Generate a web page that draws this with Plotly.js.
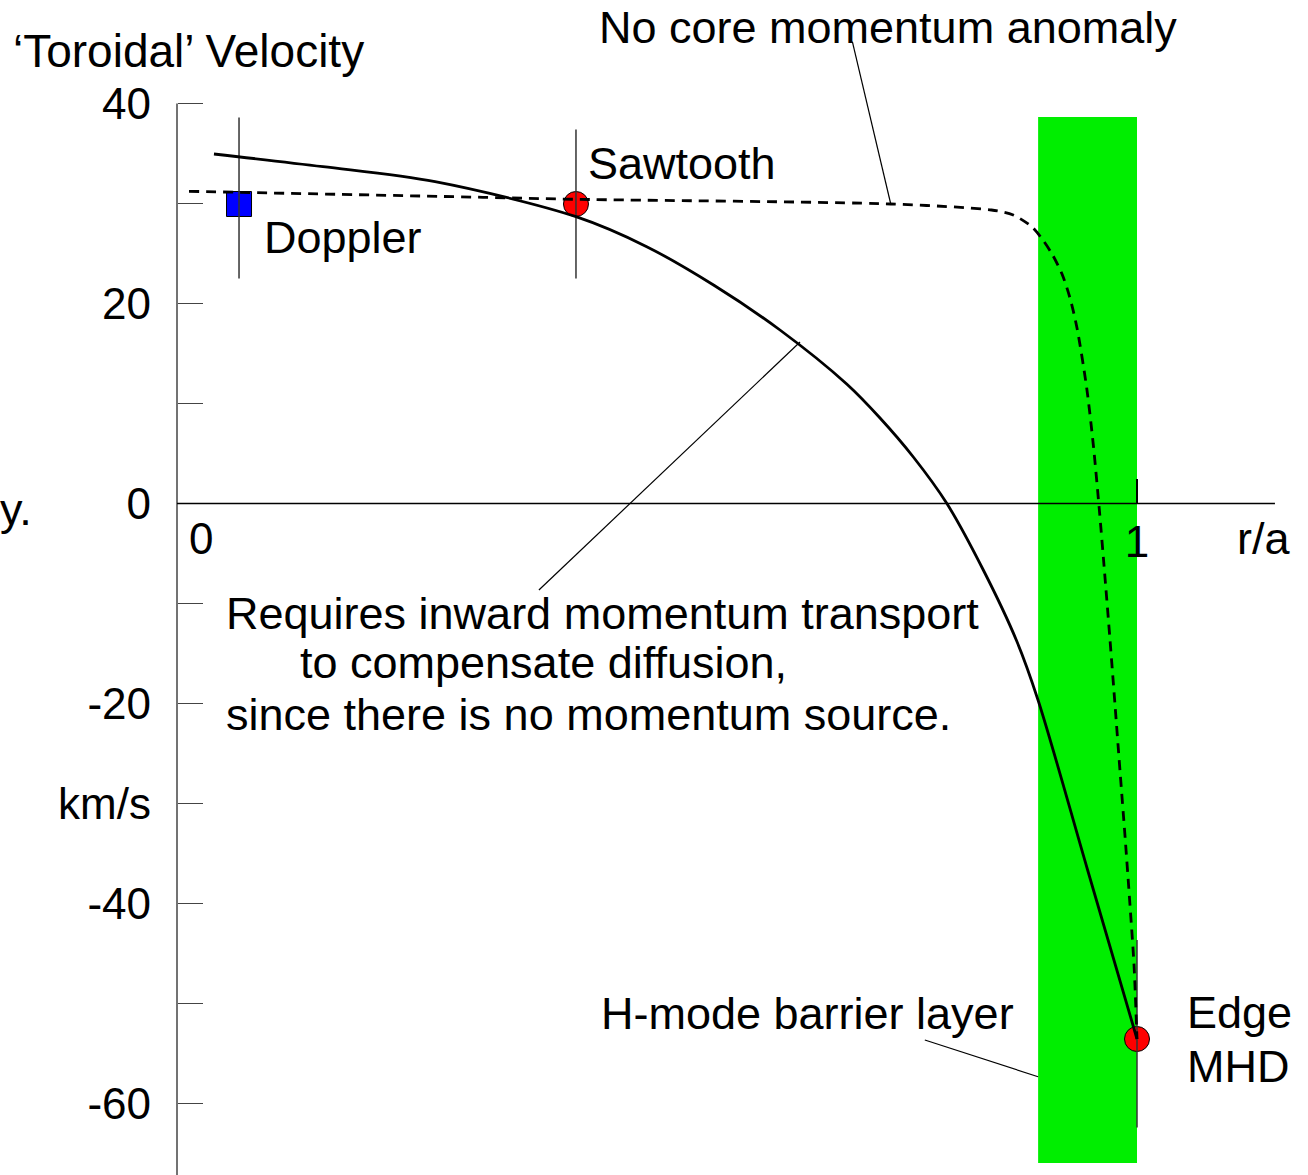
<!DOCTYPE html>
<html>
<head>
<meta charset="utf-8">
<script src="https://cdn.plot.ly/plotly-3.0.1.min.js"></script>
<style>html,body{margin:0;padding:0;background:#fff;}#chart{width:1308px;height:1175px;}</style>
</head>
<body>
<div id="chart"></div>
<script>
// ---- data ----
const solidR = [0.0385, 0.1521, 0.2688, 0.4156, 0.4893, 0.5597, 0.6281, 0.6976, 0.7323, 0.7670, 0.8018, 0.8399, 0.8747, 0.8969, 0.9484, 1.0];
const solidV = [34.95, 33.68, 32.18, 28.68, 25.68, 21.8, 17.35, 11.95, 8.55, 4.65, 0.02, -6.65, -13.75, -19.65, -36.6, -53.55];

const dashR = [0.0125, 0.3188, 0.4156, 0.7435, 0.8483, 0.8711, 0.8903, 0.9007, 0.9115, 0.9219, 0.9302, 0.9375, 0.9476, 0.9545, 0.9607, 0.9656, 0.9719, 0.9771, 0.9823, 0.9875, 0.9927, 0.9969, 1.0];
const dashV = [31.22, 30.62, 30.42, 29.95, 29.35, 28.85, 27.68, 26.52, 24.95, 22.95, 20.55, 17.55, 11.55, 5.85, -0.55, -6.15, -13.65, -20.15, -26.75, -33.25, -40.15, -46.15, -53.55];

const pointNames = ['Doppler', 'Sawtooth', 'Edge MHD'];
const pointR  = [0.0646, 0.4156, 1.0];
const pointV  = [29.95, 29.95, -53.55];
const pointHi = [38.6, 37.4, -43.65];
const pointLo = [22.5, 22.5, -62.4];

const barrierR = [0.897, 1.0];
const barrierV = [-65.95, 38.65];

const yTickVals = [40, 30, 20, 10, 0, -10, -20, -30, -40, -50, -60];
const yTickText = ['40', '', '20', '', '0', '', '-20', 'km/s', '-40', '', '-60'];
const xTickVals = [1];
const xTickText = ['1'];
const xAxisEnd = 1.1437;
const yAxisTop = 40;

// leader lines [r0, v0, r1, v1]
const leaderNoCore = [0.7035, 46.18, 0.7435, 29.95];
const leaderInward = [0.377, -8.65, 0.649, 16.15];
const leaderHmode  = [0.779, -53.65, 0.897, -57.32];

// ---- layout helpers (pixel -> paper) ----
const W = 1308, H = 1175;
const PX = x => x / W;
const PY = y => 1 - y / H;
const FONT = 'Liberation Sans, Arial, sans-serif';

const traces = [];
// markers
traces.push({
  x: [pointR[0]], y: [pointV[0]], mode: 'markers', type: 'scatter', name: pointNames[0],
  marker: {symbol: 'square', size: 25, color: '#0000ff', line: {color: '#000', width: 1}},
  hoverinfo: 'skip'
});
traces.push({
  x: pointR.slice(1), y: pointV.slice(1), mode: 'markers', type: 'scatter', name: 'MHD',
  marker: {symbol: 'circle', size: 25, color: '#ff0000', line: {color: '#000', width: 1}},
  hoverinfo: 'skip'
});
// error bars drawn as lines over the markers
const ebX = [], ebY = [];
for (let i = 0; i < pointR.length; i++) {
  ebX.push(pointR[i], pointR[i], null);
  ebY.push(pointLo[i], pointHi[i], null);
}
traces.push({x: ebX, y: ebY, mode: 'lines', type: 'scatter', line: {color: '#333', width: 1.5}, hoverinfo: 'skip'});
// curves
traces.push({x: dashR, y: dashV, mode: 'lines', type: 'scatter',
  line: {color: '#000', width: 2.8, dash: '10px,7px', shape: 'spline', smoothing: 0.8}, hoverinfo: 'skip'});
traces.push({x: solidR, y: solidV, mode: 'lines', type: 'scatter',
  line: {color: '#000', width: 2.8, shape: 'spline', smoothing: 0.9}, hoverinfo: 'skip'});
// leaders
[leaderNoCore, leaderInward, leaderHmode].forEach(l => {
  traces.push({x: [l[0], l[2]], y: [l[1], l[3]], mode: 'lines', type: 'scatter',
    line: {color: '#000', width: 1.2}, hoverinfo: 'skip'});
});

const shapes = [
  {type: 'rect', xref: 'x', yref: 'y', x0: barrierR[0], x1: barrierR[1], y0: barrierV[0], y1: barrierV[1],
   fillcolor: '#00ee00', line: {width: 0}, layer: 'below'},
  {type: 'line', xref: 'x', yref: 'y', x0: 0, x1: 0, y0: yAxisTop, y1: -80, line: {color: '#444', width: 1.5}},
  {type: 'line', xref: 'x', yref: 'y', x0: 0, x1: xAxisEnd, y0: 0, y1: 0, line: {color: '#000', width: 1.5}}
];

function txt(text, x, y, xanchor, size) {
  return {text: text, xref: 'paper', yref: 'paper', x: PX(x), y: PY(y), xanchor: xanchor || 'left',
    yanchor: 'middle', showarrow: false, font: {family: FONT, size: size || 45, color: '#000'}};
}
const annotations = [
  txt('\u2018Toroidal\u2019 Velocity', 11, 51, 'left', 46),
  txt('No core momentum anomaly', 597, 27),
  txt('Sawtooth', 586, 163),
  txt('Doppler', 262, 238),
  txt('Requires inward momentum transport', 224, 613),
  txt('to compensate diffusion,', 298, 663),
  txt('since there is no momentum source.', 224, 714),
  txt('H-mode barrier layer', 599, 1013),
  txt('Edge', 1185, 1012),
  txt('MHD', 1185, 1066),
  txt('0', 201, 538, 'center', 44),
  txt('r/a', 1235, 538),
  txt('y.', -2, 509)
];

const layout = {
  width: W, height: H,
  margin: {l: 0, r: 0, t: 0, b: 0},
  paper_bgcolor: '#fff', plot_bgcolor: '#fff',
  showlegend: false,
  font: {family: FONT, size: 44, color: '#000'},
  xaxis: {
    range: [-177 / 960, (W - 177) / 960], showgrid: false, zeroline: false, showline: false,
    anchor: 'free', position: PY(503.5),
    tickmode: 'array', tickvals: xTickVals, ticktext: xTickText,
    ticks: 'inside', ticklen: 25, tickwidth: 1.5, tickcolor: '#000',
    tickfont: {family: FONT, size: 44, color: '#000'}, ticklabelstandoff: 8
  },
  yaxis: {
    range: [(503.5 - H) / 10, 503.5 / 10], showgrid: false, zeroline: false, showline: false,
    anchor: 'free', position: PX(177),
    tickmode: 'array', tickvals: yTickVals, ticktext: yTickText,
    ticks: 'inside', ticklen: 25, tickwidth: 1.5, tickcolor: '#444',
    tickfont: {family: FONT, size: 44, color: '#000'}, ticklabelstandoff: 26
  },
  shapes: shapes,
  annotations: annotations
};

Plotly.newPlot('chart', traces, layout, {staticPlot: true});
</script>
</body>
</html>
